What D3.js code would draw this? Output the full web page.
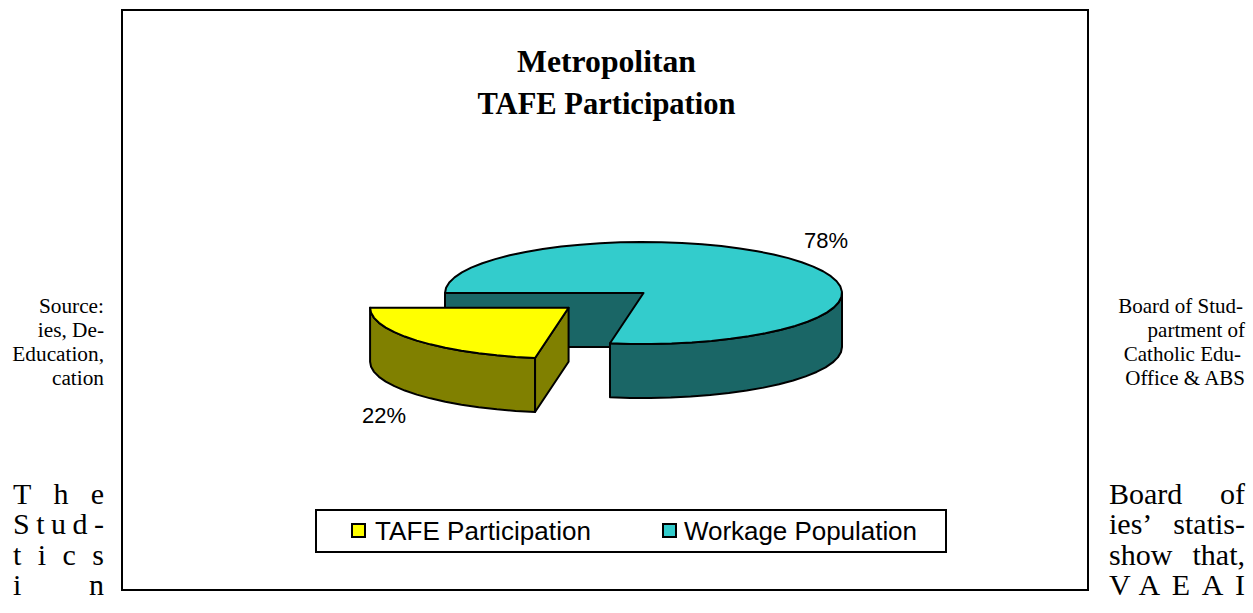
<!DOCTYPE html>
<html lang="en">
<head>
<meta charset="UTF-8">
<title>Metropolitan TAFE Participation</title>
<script src="https://d3js.org/d3.v7.min.js"></script>
<style>
    html, body { margin: 0; padding: 0; background: #fff; overflow: hidden; }
    svg { display: block; }
    text { fill: #000; }
    .serif { font-family: "Liberation Serif", serif; }
    .sans { font-family: "Liberation Sans", sans-serif; }
</style>
</head>
<body>
<div id="grafico"></div>
<script>
    // dados
    const categories = ["TAFE Participation", "Workage Population"];
    const shares = [22.3, 77.7];
    const titleLines = ["Metropolitan", "TAFE Participation"];
    const leftNote = ["Source:", "ies, De-", "Education,", "cation"];
    const rightNote = ["Board of Stud-", "partment of", "Catholic Edu-", "Office & ABS"];
    const leftBody = ["The", "Stud-", "tics", "in"];
    const rightBody = ["Board of", "ies’ statis-", "show that,", "VAEAI"];

    const width = 1253, height = 613;
    const svg = d3.select("#grafico").append("svg").attr("width", width).attr("height", height);

    // moldura do grafico
    svg.append("rect").attr("x", 122).attr("y", 10).attr("width", 966).attr("height", 580)
        .attr("fill", "#fff").attr("stroke", "#000").attr("stroke-width", 2);

    const titleWidths = [179, 258];
    svg.selectAll(".titulo").data(titleLines).enter().append("text")
        .attr("class", "titulo serif")
        .attr("x", 606.5)
        .attr("y", (d, i) => 72 + i * 42)
        .attr("text-anchor", "middle")
        .attr("font-weight", "bold")
        .attr("font-size", 31)
        .attr("textLength", (d, i) => titleWidths[i])
        .attr("lengthAdjust", "spacingAndGlyphs")
        .text(d => d);

    // pizza 3D
    const cx = 643.5, cy = 293, rx = 198.5, ry = 51, depth = 54, explode = 98;
    const colors = d3.scaleOrdinal().domain(categories).range(["#ffff00", "#33cccc"]);
    const sideColors = d3.scaleOrdinal().domain(categories).range(["#808000", "#1a6666"]);

    const tafeAngle = shares[0] / d3.sum(shares) * 2 * Math.PI;
    const pieStart = 1.5 * Math.PI - tafeAngle;
    const arcs = d3.pie().sort(null).startAngle(pieStart).endAngle(pieStart + 2 * Math.PI)(shares);

    const px = d3.scaleLinear().domain([-1, 1]).range([-rx, rx]);
    const py = d3.scaleLinear().domain([-1, 1]).range([ry, -ry]);
    const line = d3.line();
    const pt = (a, c, dy) => [c[0] + px(Math.sin(a)), c[1] + py(Math.cos(a)) + (dy || 0)];
    const arcPts = (a0, a1, c, dy) => {
        const n = Math.max(2, Math.ceil(Math.abs(a1 - a0) / (6 * Math.PI / 180)));
        return d3.range(n + 1).map(i => pt(a0 + (a1 - a0) * i / n, c, dy));
    };
    const drawPath = (pts, fill) => svg.append("path")
        .attr("d", line(pts) + "Z")
        .attr("fill", fill)
        .attr("stroke", "#000")
        .attr("stroke-width", 2)
        .attr("stroke-linejoin", "round");

    // fatia maior: parede interna, parede externa, topo
    const big = arcs[1];
    const bigC = [cx, cy];
    const bigSide = sideColors(categories[1]);
    drawPath([[bigC[0], bigC[1]], pt(big.startAngle, bigC), pt(big.startAngle, bigC, depth), [bigC[0], bigC[1] + depth]], bigSide);
    const wallStart = 2.5 * Math.PI;
    const bigFront = arcPts(wallStart, big.endAngle, bigC);
    drawPath(bigFront.concat(arcPts(big.endAngle, wallStart, bigC, depth)), bigSide);
    drawPath([bigC].concat(arcPts(big.startAngle, big.endAngle, bigC)), colors(categories[1]));

    // fatia destacada
    const small = arcs[0];
    const mid = (small.startAngle + small.endAngle) / 2;
    const smallC = [cx + explode * Math.sin(mid), cy - explode * Math.cos(mid) * ry / rx - 1.5];
    const smallSide = sideColors(categories[0]);
    drawPath(arcPts(small.startAngle, small.endAngle, smallC).concat(arcPts(small.endAngle, small.startAngle, smallC, depth)), smallSide);
    drawPath([smallC, pt(small.startAngle, smallC), pt(small.startAngle, smallC, depth), [smallC[0], smallC[1] + depth]], smallSide);
    drawPath([smallC].concat(arcPts(small.startAngle, small.endAngle, smallC)), colors(categories[0]));

    // rotulos de percentual
    const fmt = d => Math.round(d) + "%";
    const labelPos = [[384, 423], [826, 248]];
    svg.selectAll(".rotulo").data(shares).enter().append("text")
        .attr("class", "rotulo sans")
        .attr("x", (d, i) => labelPos[i][0])
        .attr("y", (d, i) => labelPos[i][1])
        .attr("text-anchor", "middle")
        .attr("font-size", 22)
        .text(fmt);

    // legenda
    svg.append("rect").attr("x", 316).attr("y", 510).attr("width", 630).attr("height", 42)
        .attr("fill", "#fff").attr("stroke", "#000").attr("stroke-width", 2);
    const legendX = d3.scaleOrdinal().domain(categories).range([352, 663]);
    const legend = svg.selectAll(".legenda").data(categories).enter().append("g")
        .attr("class", "legenda")
        .attr("transform", d => `translate(${legendX(d)},524)`);
    legend.append("rect").attr("width", 13).attr("height", 13)
        .attr("fill", d => colors(d)).attr("stroke", "#000").attr("stroke-width", 2);
    legend.append("text").attr("class", "sans")
        .attr("x", (d, i) => i ? 21 : 23).attr("y", 16)
        .attr("font-size", 26)
        .attr("textLength", (d, i) => i ? 233 : 216)
        .attr("lengthAdjust", "spacing")
        .text(d => d);

    // texto do documento em volta do grafico
    svg.selectAll(".notaEsq").data(leftNote).enter().append("text")
        .attr("class", "notaEsq serif")
        .attr("x", 104).attr("y", (d, i) => 313 + i * 24)
        .attr("text-anchor", "end").attr("font-size", 21.3)
        .text(d => d);
    const rightEnds = [1243, 1245, 1241, 1245];
    svg.selectAll(".notaDir").data(rightNote).enter().append("text")
        .attr("class", "notaDir serif")
        .attr("x", (d, i) => rightEnds[i]).attr("y", (d, i) => 313 + i * 24)
        .attr("text-anchor", "end").attr("font-size", 21)
        .text(d => d);

    const bodyY = i => 504 + i * 30.3;
    svg.selectAll(".corpoEsq").data(leftBody).enter().append("text")
        .attr("class", "corpoEsq serif")
        .attr("x", 13).attr("y", (d, i) => bodyY(i))
        .attr("font-size", 30)
        .attr("textLength", 91)
        .attr("lengthAdjust", "spacing")
        .text(d => d);

    // linhas justificadas: o espaco extra vai entre as palavras
    svg.selectAll(".corpoDir").data(rightBody).enter().append("text")
        .attr("class", "corpoDir serif")
        .attr("x", 1109).attr("y", (d, i) => bodyY(i))
        .attr("font-size", 30)
        .text(d => d)
        .each(function (d) {
            const gaps = d.split(" ").length - 1;
            if (gaps > 0) {
                d3.select(this).attr("word-spacing", (136 - this.getComputedTextLength()) / gaps);
            } else {
                d3.select(this).attr("textLength", 136).attr("lengthAdjust", "spacing");
            }
        });
</script>
</body>
</html>
